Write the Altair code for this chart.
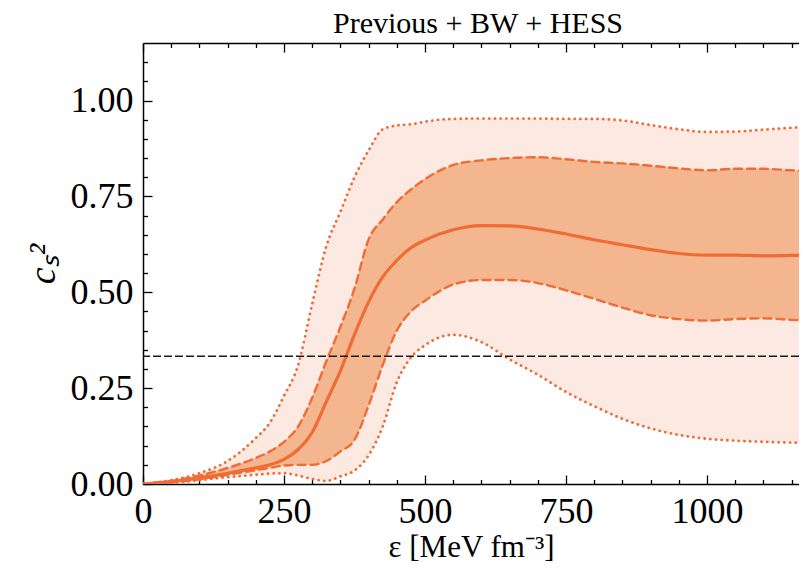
import altair as alt
import pandas as pd

# energy density grid [MeV fm^-3]
eps = [0, 50, 100, 150, 200, 225, 250, 275, 300, 325, 350, 375, 400, 425, 450, 475,
       500, 550, 600, 650, 700, 750, 800, 850, 900, 950, 1000, 1050, 1100, 1150, 1200]
median = [0, 0.006, 0.016, 0.028, 0.042, 0.050, 0.064, 0.090, 0.135, 0.215, 0.295, 0.390,
          0.475, 0.540, 0.583, 0.616, 0.636, 0.663, 0.674, 0.673, 0.665, 0.652, 0.637,
          0.624, 0.611, 0.601, 0.597, 0.597, 0.595, 0.596, 0.597]
hi68 = [0, 0.008, 0.022, 0.042, 0.068, 0.085, 0.110, 0.150, 0.225, 0.320, 0.410, 0.510,
        0.638, 0.690, 0.735, 0.768, 0.795, 0.832, 0.844, 0.850, 0.852, 0.847, 0.840,
        0.836, 0.830, 0.823, 0.818, 0.822, 0.822, 0.818, 0.815]
lo68 = [0, 0.004, 0.012, 0.024, 0.036, 0.042, 0.048, 0.050, 0.050, 0.060, 0.085, 0.115,
        0.205, 0.310, 0.400, 0.450, 0.478, 0.520, 0.532, 0.532, 0.524, 0.505, 0.483,
        0.460, 0.440, 0.430, 0.426, 0.430, 0.432, 0.428, 0.426]
hi95 = [0, 0.010, 0.028, 0.060, 0.120, 0.160, 0.230, 0.310, 0.470, 0.620, 0.710, 0.800,
        0.870, 0.925, 0.935, 0.938, 0.945, 0.952, 0.953, 0.953, 0.953, 0.952, 0.952,
        0.948, 0.936, 0.925, 0.918, 0.919, 0.924, 0.929, 0.932]
lo95 = [0, 0.003, 0.010, 0.018, 0.024, 0.027, 0.028, 0.022, 0.013, 0.008, 0.020, 0.035,
        0.075, 0.150, 0.265, 0.330, 0.362, 0.389, 0.370, 0.325, 0.285, 0.240, 0.203,
        0.170, 0.145, 0.128, 0.118, 0.113, 0.110, 0.108, 0.107]
conformal = [1 / 3]

x_major = [0, 250, 500, 750, 1000]
x_minor = [50, 100, 150, 200, 300, 350, 400, 450, 550, 600, 650, 700, 800, 850, 900, 950,
           1050, 1100, 1150]
y_major = [0.0, 0.25, 0.5, 0.75, 1.0]
y_minor = [0.05, 0.10, 0.15, 0.20, 0.30, 0.35, 0.40, 0.45, 0.55, 0.60, 0.65, 0.70, 0.80,
           0.85, 0.90, 0.95, 1.05, 1.10]

LINE = "#ef6c34"
FILL68 = "#f4b68f"
FILL95 = "#fce9e1"
FONT = "Liberation Serif"

df = pd.DataFrame({"eps": eps, "median": median, "lo68": lo68, "hi68": hi68,
                   "lo95": lo95, "hi95": hi95})
df_c = pd.DataFrame({"c": conformal})

xs = alt.Scale(domain=[0, 1163], nice=False, zero=False)
ys = alt.Scale(domain=[0, 1.15], nice=False, zero=False)
X = alt.X("eps:Q", scale=xs, axis=None)

base = alt.Chart(df)

band95 = base.mark_area(color=FILL95, interpolate="monotone", clip=True).encode(
    x=X, y=alt.Y("lo95:Q", scale=ys, axis=None), y2="hi95:Q")
band68 = base.mark_area(color=FILL68, interpolate="monotone", clip=True).encode(
    x=X, y=alt.Y("lo68:Q", scale=ys, axis=None), y2="hi68:Q")


def line(col, dash, width):
    kw = dict(color=LINE, strokeWidth=width, interpolate="monotone", clip=True,
              strokeCap="round")
    if dash:
        kw["strokeDash"] = dash
    return base.mark_line(**kw).encode(x=X, y=alt.Y(f"{col}:Q", scale=ys, axis=None))


l_lo95 = line("lo95", [0.1, 5.6], 2.8)
l_hi95 = line("hi95", [0.1, 5.6], 2.8)
l_lo68 = line("lo68", [8, 5], 2.4)
l_hi68 = line("hi68", [8, 5], 2.4)
l_med = line("median", None, 3.2)

rule = alt.Chart(df_c).mark_rule(color="#1a1a1a", strokeWidth=1.5, strokeDash=[8, 3]).encode(
    y=alt.Y("c:Q", scale=ys, axis=None))

common = dict(grid=False, tickColor="black", tickWidth=1.3, domain=False,
              labelFont=FONT, labelFontSize=36, labelColor="black",
              titleFont=FONT, titleColor="black", titleFontWeight="normal")

MAJ = 9
MIN = 4.5


def ax_layer(xaxis, yaxis):
    enc = {}
    if xaxis is not None:
        enc["x"] = alt.X("eps:Q", scale=xs, axis=xaxis)
    if yaxis is not None:
        enc["y"] = alt.Y("median:Q", scale=ys, axis=yaxis)
    return base.mark_point(opacity=0).encode(**enc)


ax1 = ax_layer(
    alt.Axis(orient="bottom", values=x_major, tickSize=MAJ, offset=-MAJ, labelPadding=10,
             format="d", labelFlush=False, title="ε [MeV fm⁻³]", titleFontSize=31,
             titlePadding=3, **common),
    alt.Axis(orient="left", values=y_major, tickSize=MAJ, offset=-MAJ, labelPadding=10,
             format=".2f", labelFlush=False, title="cₛ²", titleFontSize=38,
             titleFontStyle="italic", titlePadding=8, **common),
)
ax2 = ax_layer(
    alt.Axis(orient="bottom", values=x_minor, tickSize=MIN, offset=-MIN, labels=False,
             title=None, **common),
    alt.Axis(orient="left", values=y_minor, tickSize=MIN, offset=-MIN, labels=False,
             title=None, **common),
)
ax3 = ax_layer(
    alt.Axis(orient="top", values=x_major, tickSize=MAJ, offset=-MAJ, labels=False,
             title=None, **common),
    alt.Axis(orient="left", ticks=False, labels=False, title=None, grid=False, domain=True,
             domainColor="black", domainWidth=1.5),
)
ax4 = ax_layer(
    alt.Axis(orient="top", values=x_minor, tickSize=MIN, offset=-MIN, labels=False,
             title=None, **common),
    None,
)
ax5 = ax_layer(
    alt.Axis(orient="bottom", ticks=False, labels=False, title=None, grid=False, domain=True,
             domainColor="black", domainWidth=1.5),
    None,
)
ax6 = ax_layer(
    alt.Axis(orient="top", ticks=False, labels=False, title=None, grid=False, domain=True,
             domainColor="black", domainWidth=1.5),
    None,
)

chart = alt.layer(
    band95, band68, l_lo95, l_hi95, l_lo68, l_hi68, l_med, rule,
    ax1, ax2, ax3, ax4, ax5, ax6,
).resolve_axis(x="independent", y="independent").properties(
    width=656, height=441,
    title=alt.TitleParams("Previous + BW + HESS", font=FONT, fontSize=30,
                          fontWeight="normal", color="black", anchor="middle",
                          dx=7, offset=3),
    autosize=alt.AutoSizeParams(type="none"),
    padding={"left": 135, "top": 35, "right": 0, "bottom": 84},
).configure_view(stroke=None).configure(background="white")

chart.save("out.html", embed_options={"renderer": "svg", "actions": False})
